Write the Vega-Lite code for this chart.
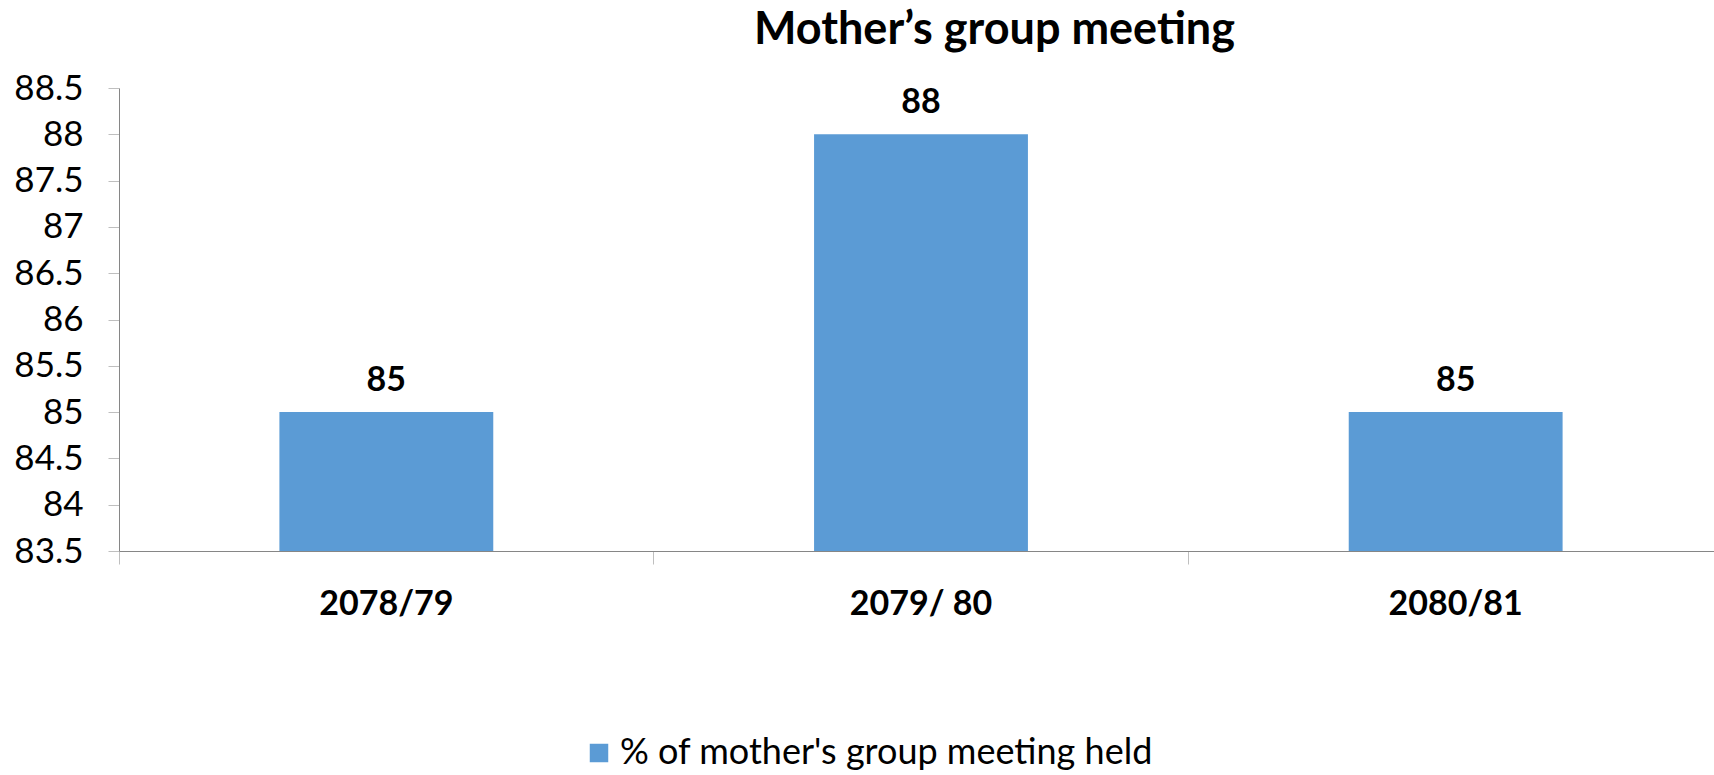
{
  "$schema": "https://vega.github.io/schema/vega-lite/v6.json",
  "autosize": {"type": "none"},
  "width": 1595,
  "height": 463,
  "padding": {"left": 119, "top": 88, "right": 0, "bottom": 224},
  "background": "white",
  "config": {
    "font": "Lato",
    "view": {"stroke": null}
  },
  "title": {
    "text": "Mother’s group meeting",
    "fontSize": 45,
    "fontWeight": "bold",
    "color": "black",
    "anchor": "middle",
    "dx": 78,
    "offset": 18
  },
  "data": {
    "values": [
      {"year": "2078/79", "value": 85, "base": 83.5, "series": "% of mother's group meeting held"},
      {"year": "2079/ 80", "value": 88, "base": 83.5, "series": "% of mother's group meeting held"},
      {"year": "2080/81", "value": 85, "base": 83.5, "series": "% of mother's group meeting held"}
    ]
  },
  "encoding": {
    "x": {
      "field": "year",
      "type": "nominal",
      "sort": null,
      "scale": {"range": [0, 1604], "paddingInner": 0.6, "paddingOuter": 0.3},
      "axis": {
        "title": null,
        "labelAngle": 0,
        "labelFontSize": 34,
        "labelFontWeight": "bold",
        "labelColor": "black",
        "labelPadding": 23,
        "tickSize": 13,
        "tickColor": "#BFBFBF",
        "domainColor": "#868686",
        "bandPosition": -0.75,
        "grid": false
      }
    },
    "y": {
      "field": "value",
      "type": "quantitative",
      "scale": {"domain": [83.5, 88.5], "zero": false, "nice": false},
      "axis": {
        "title": null,
        "values": [83.5, 84, 84.5, 85, 85.5, 86, 86.5, 87, 87.5, 88, 88.5],
        "format": "~g",
        "labelFontSize": 35,
        "labelColor": "black",
        "labelPadding": 25,
        "tickSize": 11,
        "tickColor": "#BFBFBF",
        "domainColor": "#868686",
        "grid": false
      }
    }
  },
  "layer": [
    {
      "mark": {"type": "bar"},
      "encoding": {
        "y2": {"field": "base"},
        "color": {
          "field": "series",
          "type": "nominal",
          "scale": {"range": ["#5B9BD5"]},
          "legend": {
            "title": null,
            "orient": "none",
            "legendX": 462,
            "legendY": 647,
            "padding": 0,
            "symbolType": "square",
            "symbolSize": 342,
            "symbolStrokeWidth": 0,
            "labelFontSize": 36,
            "labelColor": "black",
            "labelOffset": 3,
            "labelLimit": 1000
          }
        }
      }
    },
    {
      "mark": {"type": "text", "fontSize": 34, "fontWeight": "bold", "baseline": "alphabetic", "dy": -21, "color": "black"},
      "encoding": {
        "text": {"field": "value", "type": "quantitative"}
      }
    }
  ]
}
